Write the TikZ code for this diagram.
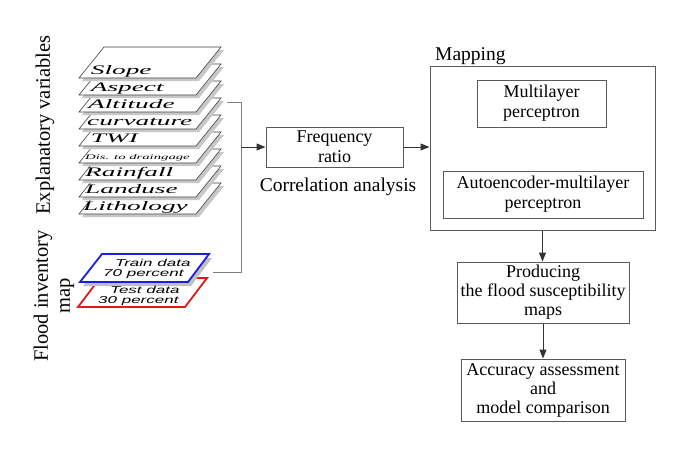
\documentclass[tikz,border=0pt]{standalone}
\usepackage{fontspec}
\setmainfont{Liberation Serif}
\newfontfamily\arialf{Liberation Sans}
\usetikzlibrary{arrows.meta}
\definecolor{bluec}{RGB}{25,30,225}
\definecolor{redc}{RGB}{225,25,25}
\begin{document}
\begin{tikzpicture}[x=1pt,y=-1pt,
  box/.style={draw=black!65, line width=1pt, fill=white, inner sep=0pt, align=center, font=\fontsize{18}{19}\selectfont},
  arr/.style={draw=black!80, line width=1pt, -{Triangle[length=9pt,width=7pt]}},
  conn/.style={draw=black!50, line width=0.9pt},
  layer/.style={draw=black!75, line width=0.6pt, fill=white},
  shad/.style={fill=black!22},
  lab/.style={anchor=base west, inner sep=0pt, font=\fontsize{13}{13}\selectfont\itshape},
  sidelab/.style={rotate=90, inner sep=0pt, align=center, font=\fontsize{20.5}{22}\selectfont},
  datalab/.style={anchor=west, inner sep=0pt, align=left, font=\arialf\fontsize{10}{10}\selectfont\itshape},
  ]
\fill[white] (0,0) rectangle (693,459);
\useasboundingbox (0,0) rectangle (693,459);

% stacked layers
\foreach \i in {8,7,...,0} {
  \pgfmathsetmacro\t{47+17*\i}
  \pgfmathsetmacro\b{\t+31}
  \fill[shad] (82,\b+3) -- (199,\b+3) -- (224,\t+3) -- (107,\t+3) -- cycle;
  \draw[layer] (79,\b) -- (196,\b) -- (221,\t) -- (104,\t) -- cycle;
}
\node[lab] (l0) at (90.7,74) {\scalebox{2.1}[1]{Slope}};
\node[lab] (l1) at (90.7,91) {\scalebox{2.1}[1]{Aspect}};
\node[lab] (l2) at (88,108) {\scalebox{2.1}[1]{Altitude}};
\node[lab] (l3) at (87,125) {\scalebox{2.1}[1]{curvature}};
\node[lab] (l4) at (90.7,142) {\scalebox{2.1}[1]{TWI}};
\node[lab, font=\fontsize{7}{7}\selectfont\itshape] (l5) at (85,159) {\scalebox{2.1}[1]{Dis. to draingage}};
\node[lab] (l6) at (85,176) {\scalebox{2.1}[1]{Rainfall}};
\node[lab] (l7) at (85,193) {\scalebox{2.1}[1]{Landuse}};
\node[lab] (l8) at (83,210) {\scalebox{2.1}[1]{Lithology}};

% train / test data
\draw[redc, line width=1.8pt, fill=white] (78,307) -- (185,307) -- (207,278) -- (100,278) -- cycle;
\fill[black!25] (83,286) -- (191,286) -- (212,258) -- (105,258) -- cycle;
\draw[bluec, line width=1.8pt, fill=white] (80,282) -- (188,282) -- (209,254) -- (102,254) -- cycle;
\node[datalab] (train) at (103,268.5) {\hspace*{12pt}\scalebox{1.7}[1]{Train data}\\\scalebox{1.7}[1]{70 percent}};
\node[datalab] (test) at (98,295.5) {\hspace*{12pt}\scalebox{1.7}[1]{Test data}\\\scalebox{1.7}[1]{30 percent}};

% side labels
\node[sidelab] (expl) at (45,125) {Explanatory variables};
\node[sidelab] (flood) at (54,296) {Flood inventory\\map};

% boxes
\node[box, minimum width=137pt, minimum height=40pt, font=\fontsize{18}{20}\selectfont] (freq) at (334.5,147) {Frequency\\ratio};
\node[inner sep=0pt, font=\fontsize{19.5}{20}\selectfont] (corr) at (338,187) {Correlation analysis};
\node[draw=black!65, line width=1pt, minimum width=225pt, minimum height=164pt, inner sep=0pt] (map) at (542.5,148) {};
\node[anchor=base west, inner sep=0pt, font=\fontsize{19.5}{20}\selectfont] (maplab) at (435,60) {Mapping};
\node[box, minimum width=129pt, minimum height=47pt, font=\fontsize{18}{20}\selectfont] (mlp) at (541.5,103.5) {Multilayer\\perceptron};
\node[box, minimum width=200pt, minimum height=47pt, font=\fontsize{18}{20}\selectfont] (ae) at (543,194.5) {Autoencoder-multilayer\\perceptron};
\node[box, minimum width=172pt, minimum height=61pt] (prod) at (543,292.5) {Producing\\the flood susceptibility\\maps};
\node[box, minimum width=164pt, minimum height=62pt] (acc) at (543,390) {Accuracy assessment\\and\\model comparison};

% connectors
\coordinate (c1) at (227,102);
\coordinate (c2) at (241,102);
\coordinate (c3) at (241,272);
\coordinate (c4) at (213,272);
\coordinate (cj) at (241,147);
\draw[conn] (c1) -- (c2) -- (c3) -- (c4);
\draw[arr] (cj) -- (freq.west);
\draw[arr] (freq.east) -- (freq.east -| map.west);
\draw[arr] (map.south) -- (map.south |- prod.north);
\draw[arr] (prod.south) -- (prod.south |- acc.north);
\end{tikzpicture}
\end{document}
